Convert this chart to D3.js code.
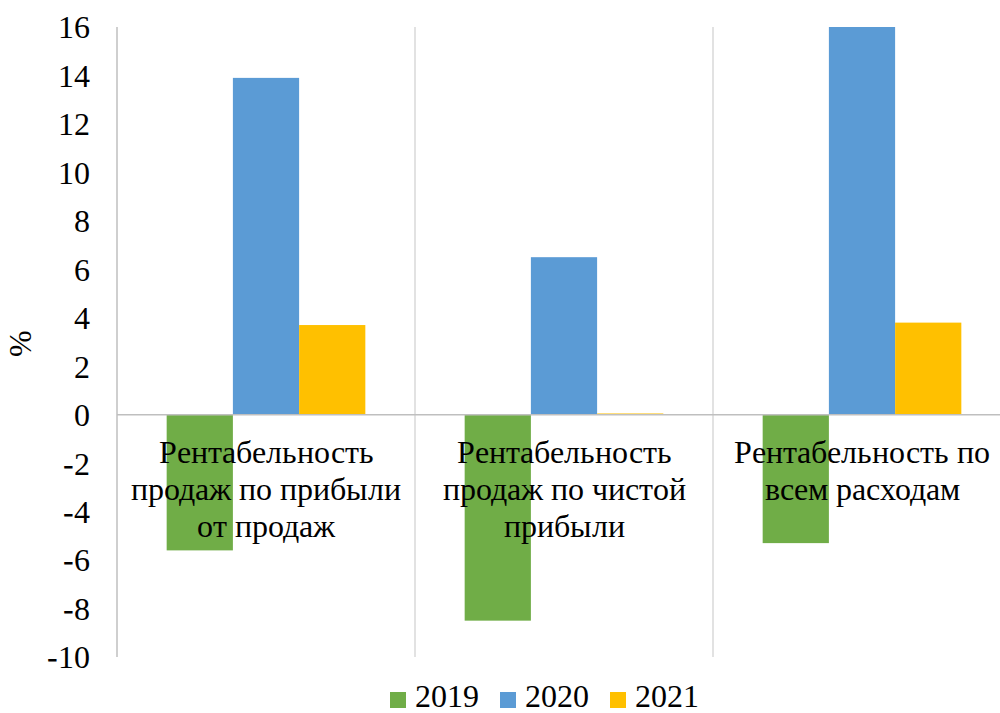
<!DOCTYPE html>
<html>
<head>
<meta charset="utf-8">
<script src="https://cdn.jsdelivr.net/npm/d3@7"></script>
<style>
    @font-face { font-family: "ChartSerif"; src: local("Liberation Serif"), local("Times New Roman"), local("Tinos"); }
    body { margin: 0; background: #fff; font-family: "Liberation Serif", "Times New Roman", serif; }
    #fig, #fig text, #fig tspan { font-family: "ChartSerif", "Liberation Serif", "Times New Roman", serif !important; }
</style>
</head>
<body>
<svg id="fig" width="1000" height="713"></svg>
<script>
var categories = [
    ["Рентабельность", "продаж по прибыли", "от продаж"],
    ["Рентабельность", "продаж по чистой", "прибыли"],
    ["Рентабельность по", "всем расходам"]
];
var seriesNames = ["2019", "2020", "2021"];
var seriesColors = ["#70AD47", "#5B9BD5", "#FFC000"];
var values2019 = [-5.6, -8.5, -5.3];
var values2020 = [13.9, 6.5, 16.0];
var values2021 = [3.7, 0.05, 3.8];
var yTicks = [-10, -8, -6, -4, -2, 0, 2, 4, 6, 8, 10, 12, 14, 16];

var seriesValues = [values2019, values2020, values2021];

var svg = d3.select("#fig");
var plotLeft = 117, plotRight = 1011, plotTop = 27, plotBottom = 657;
var fontSize = 32;
var fontFamily = "Liberation Serif, Times New Roman, serif";

var serifText = function (sel) {
    sel.attr("font-size", fontSize)
        .attr("font-family", fontFamily)
        .attr("fill", "#000");
};

var x = d3.scaleBand()
    .domain(d3.range(categories.length))
    .range([plotLeft, plotRight])
    .padding(0);

var xInner = d3.scaleBand()
    .domain(seriesNames)
    .range([0, x.bandwidth()])
    .paddingInner(0)
    .paddingOuter(0.75);

var y = d3.scaleLinear()
    .domain([-10, 16])
    .range([plotBottom, plotTop]);

// vertical gridlines between categories
svg.append("g")
    .selectAll("line")
    .data(d3.range(categories.length + 1))
    .enter().append("line")
    .attr("x1", function (i) { return plotLeft + i * x.step(); })
    .attr("x2", function (i) { return plotLeft + i * x.step(); })
    .attr("y1", plotTop)
    .attr("y2", plotBottom)
    .attr("stroke", function (i) { return i === 0 ? "#bfbfbf" : "#d9d9d9"; })
    .attr("stroke-width", 1.5);

// bars
var groups = svg.append("g")
    .selectAll(".series")
    .data(seriesValues)
    .enter().append("g")
    .attr("class", "series")
    .attr("fill", function (d, i) { return seriesColors[i]; });

groups.selectAll("rect")
    .data(function (d, si) {
        return d.map(function (v, ci) { return { v: v, c: ci, s: seriesNames[si] }; });
    })
    .enter().append("rect")
    .attr("x", function (d) { return x(d.c) + xInner(d.s); })
    .attr("width", xInner.bandwidth())
    .attr("y", function (d) { return y(Math.max(0, d.v)); })
    .attr("height", function (d) { return Math.max(1, Math.abs(y(d.v) - y(0))); });

// zero line
svg.append("line")
    .attr("x1", plotLeft)
    .attr("x2", plotRight)
    .attr("y1", y(0))
    .attr("y2", y(0))
    .attr("stroke", "#bfbfbf")
    .attr("stroke-width", 1.5);

// y axis labels
var yAxis = d3.axisLeft(y)
    .tickValues(yTicks)
    .tickFormat(function (d) { return String(d); })
    .tickSize(0)
    .tickPadding(27);

var yAxisG = svg.append("g")
    .attr("transform", "translate(" + plotLeft + ",0)")
    .call(yAxis)
    .attr("font-family", fontFamily);
yAxisG.select(".domain").remove();
yAxisG.selectAll("text")
    .attr("dy", "0.34em")
    .call(serifText);

svg.append("text")
    .attr("transform", "translate(31,343) rotate(-90)")
    .attr("text-anchor", "middle")
    .call(serifText)
    .text("%");

// category labels, on top of bars
var labels = svg.append("g")
    .selectAll("text")
    .data(categories)
    .enter().append("text")
    .attr("text-anchor", "middle")
    .call(serifText)
    .attr("transform", function (d, i) {
        return "translate(" + (x(i) + x.bandwidth() / 2) + ",463)";
    });

labels.selectAll("tspan")
    .data(function (d) { return d; })
    .enter().append("tspan")
    .attr("x", 0)
    .attr("y", function (d, i) { return i * 37; })
    .text(function (d) { return d; });

// legend
var legendX = [390, 500, 610];
var legend = svg.append("g")
    .selectAll("g")
    .data(seriesNames)
    .enter().append("g")
    .attr("transform", function (d, i) { return "translate(" + legendX[i] + ",692)"; });

legend.append("rect")
    .attr("width", 16)
    .attr("height", 16)
    .attr("fill", function (d, i) { return seriesColors[i]; });

legend.append("text")
    .attr("x", 25)
    .attr("y", 15)
    .call(serifText)
    .text(function (d) { return d; });
</script>
</body>
</html>
